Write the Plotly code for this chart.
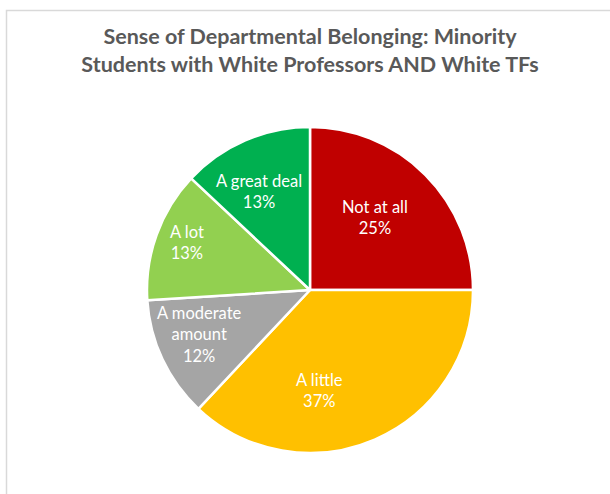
import math
import plotly.graph_objects as go

# Survey responses (percent of respondents), listed clockwise from 12 o'clock
categories = ["Not at all", "A little", "A moderate amount", "A lot", "A great deal"]
shares = [25, 37, 12, 13, 13]
display_names = ["Not at all", "A little", "A moderate<br>amount", "A lot", "A great deal"]
slice_colors = ["#C00000", "#FFC000", "#A5A5A5", "#92D050", "#00B050"]

# label placement inside each slice: distance from centre (fraction of radius)
# and a small turn (degrees) away from the slice bisector
label_radius = [0.60, 0.62, 0.73, 0.81, 0.68]
label_turn = [-3, 18, 3, 1.5, -4]

W, H = 610, 494
cx, cy, R = 310, 290, 163  # pie centre and radius in pixels

fig = go.Figure(
    go.Pie(
        labels=categories,
        values=shares,
        textinfo="none",
        marker=dict(colors=slice_colors, line=dict(color="white", width=2.5)),
        sort=False,
        direction="clockwise",
        rotation=0,
        showlegend=False,
        hoverinfo="label+percent",
        domain=dict(
            x=[(cx - R) / W, (cx + R) / W],
            y=[(H - cy - R) / H, (H - cy + R) / H],
        ),
    )
)

# data labels: placed near each slice's bisector
total = sum(shares)
annotations = []
start = 0.0
for name, val, frac, turn in zip(display_names, shares, label_radius, label_turn):
    mid = (start + val / 2) / total * 2 * math.pi + math.radians(turn)
    start += val
    px = cx + frac * R * math.sin(mid)
    py = cy - frac * R * math.cos(mid)
    annotations.append(
        dict(
            x=px / W,
            y=1 - py / H,
            xref="paper",
            yref="paper",
            text=f"{name}<br>{val}%",
            showarrow=False,
            xanchor="center",
            yanchor="middle",
            align="center",
            font=dict(family="Lato", size=16.5, color="white"),
        )
    )

fig.update_layout(
    width=W,
    height=H,
    margin=dict(l=0, r=0, t=0, b=0),
    paper_bgcolor="white",
    title=dict(
        text="Sense of Departmental Belonging: Minority<br>Students with White Professors AND White TFs",
        font=dict(family="Lato", size=21.5, color="#595959", weight="bold"),
        x=310 / W,
        xanchor="center",
        y=1 - 44 / H,
        yanchor="middle",
    ),
    annotations=annotations,
    shapes=[
        dict(
            type="rect",
            xref="paper",
            yref="paper",
            x0=6.5 / W,
            x1=1.05,
            y0=-0.05,
            y1=1 - 10.5 / H,
            line=dict(color="#D9D9D9", width=1.5),
            fillcolor="rgba(0,0,0,0)",
            layer="below",
        )
    ],
)

fig.write_html("out.html")
